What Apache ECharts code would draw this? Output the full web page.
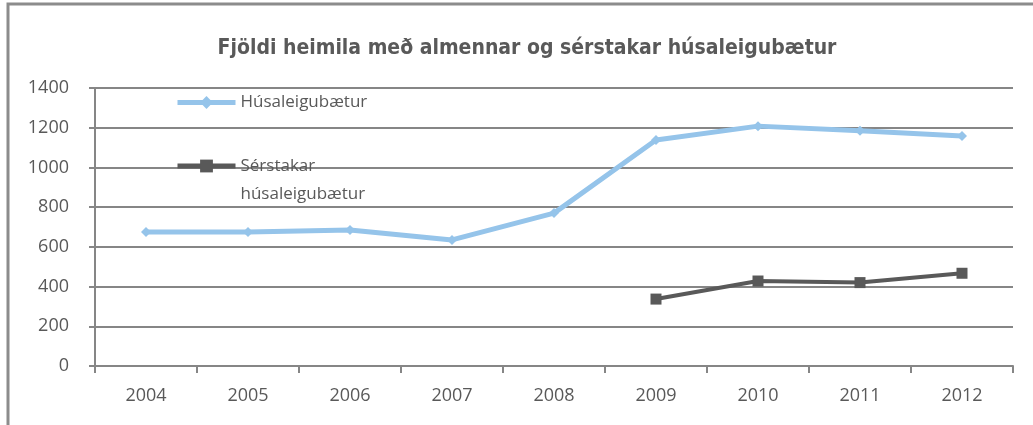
<!DOCTYPE html>
<html>
<head>
<meta charset="utf-8">
<script src="https://cdn.jsdelivr.net/npm/echarts@6/dist/echarts.min.js"></script>
<style>
html,body{margin:0;padding:0;background:#fff;}
#main{width:1033px;height:425px;}
</style>
</head>
<body>
<div id="main"></div>
<script>
var years = ['2004','2005','2006','2007','2008','2009','2010','2011','2012'];
var husaleigubaetur = [675, 675, 685, 635, 770, 1138, 1208, 1185, 1158];
var serstakar = [null, null, null, null, null, 337, 428, 420, 467];
var yTicks = [0, 200, 400, 600, 800, 1000, 1200, 1400];

var chart = echarts.init(document.getElementById('main'));
var txt = '#595959';
var narrow = '"DejaVu Sans Condensed", "Roboto", sans-serif';
var option = {
	animation: false,
	title: {
		text: 'Fjöldi heimila með almennar og sérstakar húsaleigubætur',
		left: 522,
		top: 33,
		textAlign: 'center',
		textStyle: {
			fontFamily: narrow,
			fontSize: 21,
			fontWeight: 'bold',
			color: txt
		}
	},
	legend: [
		{
			data: ['Húsaleigubætur'],
			left: 175,
			top: 94,
			padding: 0,
			itemWidth: 58,
			itemHeight: 16,
			lineStyle: {width: 5},
			textStyle: {fontFamily: 'Open Sans', fontSize: 17, color: txt}
		},
		{
			data: ['Sérstakar húsaleigubætur'],
			left: 175,
			top: 124,
			padding: 0,
			itemWidth: 58,
			itemHeight: 16,
			lineStyle: {width: 5},
			formatter: function () { return ' \nSérstakar\nhúsaleigubætur'; },
			textStyle: {fontFamily: 'Open Sans', fontSize: 17, color: txt, lineHeight: 28}
		}
	],
	grid: {
		left: 95,
		right: 20,
		top: 88,
		bottom: 59
	},
	xAxis: {
		type: 'category',
		data: years,
		boundaryGap: true,
		axisLine: {lineStyle: {color: '#868686', width: 2}},
		axisTick: {show: true, length: 7, lineStyle: {color: '#868686', width: 2}},
		axisLabel: {fontFamily: 'Open Sans', fontSize: 18, color: txt, margin: 21}
	},
	yAxis: {
		type: 'value',
		min: yTicks[0],
		max: yTicks[yTicks.length - 1],
		interval: 200,
		axisLine: {show: true, lineStyle: {color: '#868686', width: 2}},
		axisTick: {show: true, length: 6, lineStyle: {color: '#868686', width: 2}},
		axisLabel: {fontFamily: 'Open Sans', fontSize: 18, color: txt, margin: 26,
			formatter: function (v) { return String(v); }},
		splitLine: {lineStyle: {color: '#868686', width: 2}}
	},
	series: [
		{
			name: 'Húsaleigubætur',
			type: 'line',
			data: husaleigubaetur,
			symbol: 'diamond',
			symbolSize: 10,
			lineStyle: {color: '#95c4ea', width: 5},
			itemStyle: {color: '#95c4ea'}
		},
		{
			name: 'Sérstakar húsaleigubætur',
			type: 'line',
			data: serstakar,
			symbol: 'rect',
			symbolSize: 11,
			lineStyle: {color: '#595959', width: 4},
			itemStyle: {color: '#595959'}
		}
	],
	graphic: [
		{
			type: 'rect',
			shape: {x: 8, y: 4, width: 1040, height: 440},
			style: {fill: 'none', stroke: '#8c8c8c', lineWidth: 3},
			silent: true
		}
	]
};
chart.setOption(option);
</script>
</body>
</html>
